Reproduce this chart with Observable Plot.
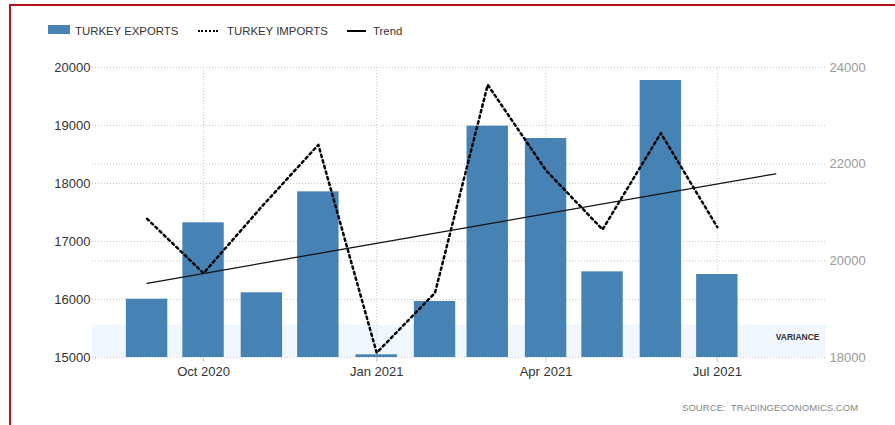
<!DOCTYPE html>
<html>
<head>
<meta charset="utf-8">
<script src="https://cdn.jsdelivr.net/npm/d3@7"></script>
<script src="https://cdn.jsdelivr.net/npm/@observablehq/plot@0.6"></script>
<style>
  html, body { margin: 0; padding: 0; background: #fff; }
  #wrap { position: relative; width: 895px; height: 425px; overflow: hidden; font-family: "Liberation Sans", Arial, sans-serif; }
  #frame { position: absolute; left: 9px; top: 4px; width: 1000px; height: 1000px; border-left: 2px solid #b5121b; border-top: 2px solid #b5121b; box-sizing: border-box; }
  #chart { position: absolute; left: 0; top: 0; }
  .lg { position: absolute; font-size: 11.4px; color: #333; line-height: 12px; white-space: nowrap; }
  .sw { position: absolute; }
  #source { position: absolute; left: 682px; top: 402px; font-size: 9.6px; color: #888; letter-spacing: 0px; white-space: nowrap; }
</style>
</head>
<body>
<div id="wrap">
  <div id="chart"></div>
  <div id="frame"></div>
  <div class="sw" style="left:48px;top:25px;width:22px;height:9px;background:#4682b4;"></div>
  <div class="lg" style="left:75px;top:25px;">TURKEY EXPORTS</div>
  <div class="sw" style="left:198px;top:30px;width:20px;height:0;border-top:2.5px dotted #000;"></div>
  <div class="lg" style="left:227px;top:25px;">TURKEY IMPORTS</div>
  <div class="sw" style="left:347px;top:30px;width:19px;height:2px;background:#000;"></div>
  <div class="lg" style="left:373px;top:25px;">Trend</div>
  <div id="source">SOURCE:&nbsp; TRADINGECONOMICS.COM</div>
</div>
<script>
// ---- data ----
const months = ["2020-09-01","2020-10-01","2020-11-01","2020-12-01","2021-01-01","2021-02-01","2021-03-01","2021-04-01","2021-05-01","2021-06-01","2021-07-01"];
const exportsVals = [16005, 17322, 16115, 17856, 15046, 15966, 18988, 18776, 16477, 19776, 16431];
const importsVals = [20870, 19744, 21124, 22401, 18097, 19339, 23642, 21869, 20648, 22641, 20696];
const trendDates = ["2020-09-01", "2021-08-01"];
const trendVals = [16279, 18167];
const xTicks = ["2020-10-01", "2021-01-01", "2021-04-01", "2021-07-01"];
const leftTicks = [15000, 16000, 17000, 18000, 19000, 20000];
const rightTicks = [18000, 20000, 22000, 24000];
const leftDomain = [15000, 20000];
const rightDomain = [18000, 24000];
const xDomain = ["2020-08-03", "2021-08-28"];
const varianceBand = [15000, 15560];

// ---- helpers ----
const parse = d3.utcParse("%Y-%m-%d");
const toLeft = v => leftDomain[0] + (v - rightDomain[0]) * (leftDomain[1] - leftDomain[0]) / (rightDomain[1] - rightDomain[0]);
const toRight = v => rightDomain[0] + (v - leftDomain[0]) * (rightDomain[1] - rightDomain[0]) / (leftDomain[1] - leftDomain[0]);

const data = months.map((m, i) => ({date: parse(m), exp: exportsVals[i], imp: importsVals[i]}));
const trend = trendDates.map((m, i) => ({date: parse(m), v: trendVals[i]}));
const xt = xTicks.map(parse);
const xd = xDomain.map(parse);

const grid = {stroke: "#c8c8c8", strokeWidth: 1, strokeDasharray: "1,2"};

const chart = Plot.plot({
  width: 895,
  height: 425,
  marginLeft: 92,
  marginRight: 69,
  marginTop: 67,
  marginBottom: 68,
  style: {fontFamily: "'Liberation Sans', Arial, sans-serif", background: "transparent"},
  x: {type: "utc", domain: xd},
  y: {domain: leftDomain},
  marks: [
    Plot.rect([varianceBand], {x1: () => xd[0], x2: () => xd[1], y1: d => d[0], y2: d => d[1], fill: "#f0f7fe"}),
    Plot.ruleY(leftTicks, grid),
    Plot.ruleY(rightTicks.map(toLeft), grid),
    Plot.ruleX(xt, grid),
    Plot.rect(data, {
      x1: d => d3.utcDay.offset(d.date, -11),
      x2: d => d3.utcDay.offset(d.date, 11),
      y1: leftDomain[0],
      y2: "exp",
      fill: "#4682b4"
    }),
    Plot.line(data, {x: "date", y: d => toLeft(d.imp), stroke: "#000", strokeWidth: 2.5, strokeDasharray: "2.4,3.4"}),
    Plot.line(trend, {x: "date", y: "v", stroke: "#111", strokeWidth: 1.3}),
    Plot.text(["VARIANCE"], {frameAnchor: "bottom-right", dx: -7, dy: -20, fontSize: 8.5, fontWeight: "bold", fill: "#333", textAnchor: "end", lineAnchor: "middle"}),
    Plot.axisX({ticks: xt, tickFormat: d3.utcFormat("%b %Y"), tickSize: 5, tickPadding: 4, fontSize: 13, stroke: "#c8c8c8", fill: "#333", label: null}),
    Plot.axisY({ticks: leftTicks, tickFormat: d3.format("d"), tickSize: 0, tickPadding: 2, fontSize: 13, fill: "#333", label: null}),
    Plot.axisY({anchor: "right", ticks: rightTicks.map(toLeft), tickFormat: v => d3.format("d")(Math.round(toRight(v))), tickSize: 0, tickPadding: 3, fontSize: 13, fill: "#9a9a9a", label: null})
  ]
});
document.getElementById("chart").appendChild(chart);
</script>
</body>
</html>
